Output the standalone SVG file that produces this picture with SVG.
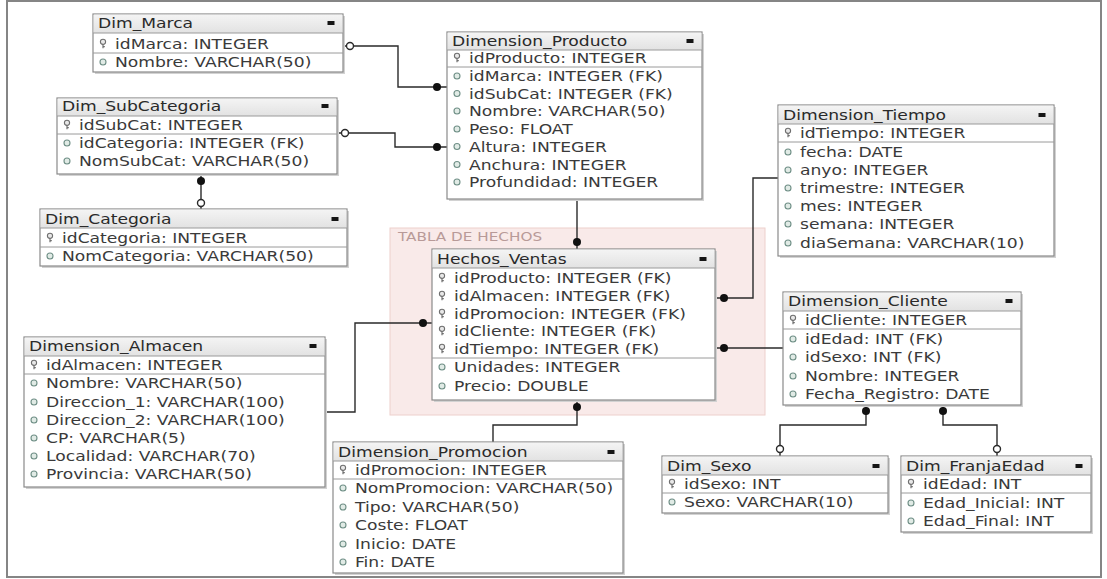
<svg xmlns="http://www.w3.org/2000/svg" xmlns:xlink="http://www.w3.org/1999/xlink" width="1107" height="579" viewBox="0 0 1107 579">
  <style>
    .box { fill: #ffffff; stroke: #8a8a8a; stroke-width: 1.2; }
    .shadow { fill: #d2d2d2; }
    .hdr { fill: url(#hg); }
    .sep { stroke: #9a9a9a; stroke-width: 1; }
    .t { font-family: "DejaVu Sans", "Liberation Sans", sans-serif; font-size: 13.5px; fill: #3a3a3a; }
    .ttl { font-family: "DejaVu Sans", "Liberation Sans", sans-serif; font-size: 13.5px; fill: #2a2a2a; }
    .conn { fill: none; stroke: #2a2a2a; stroke-width: 1.4; }
    .dot { fill: #111111; }
    .hol { fill: #ffffff; stroke: #2a2a2a; stroke-width: 1.4; }
    .zone { fill: #f7e3e1; fill-opacity: 0.75; stroke: #edd0cc; stroke-width: 1; }
    .zlbl { font-family: "DejaVu Sans", "Liberation Sans", sans-serif; font-size: 12px; fill: #b89a98; }
    .frame { fill: none; stroke: #858585; stroke-width: 2; }
  </style>
  <defs>
    <linearGradient id="hg" x1="0" y1="0" x2="0" y2="1">
      <stop offset="0" stop-color="#f4f4f4"/>
      <stop offset="1" stop-color="#e2e2e2"/>
    </linearGradient>
    <!-- primary key glyph -->
    <g id="key">
      <circle cx="0" cy="-2.2" r="2.6" fill="#e8e8e8" stroke="#6f6f6f" stroke-width="1.1"/>
      <path d="M0,0.4 V4.2 M0,2.6 H1.8" stroke="#6f6f6f" stroke-width="1.2" fill="none"/>
    </g>
    <!-- attribute glyph -->
    <g id="att">
      <circle cx="0" cy="0" r="3" fill="#e1ebe6" stroke="#6f8f86" stroke-width="1.1"/>
    </g>
    <!-- header dropdown glyph -->
    <rect id="dd" x="-3.5" y="-2" width="7" height="4" fill="#151515"/>
  </defs>

  <rect width="1107" height="579" fill="#ffffff"/>
  <rect class="frame" x="7" y="1" width="1094" height="576"/>

  <!-- fact table zone -->
  <g id="zona_hechos">
    <rect class="zone" x="390" y="228" width="375" height="187"/>
    <text class="zlbl" transform="translate(398,241) scale(1.27,1)">TABLA DE HECHOS</text>
  </g>

  <!-- connectors -->
  <g id="connectors">
    <path class="conn" d="M343,46 H398 V87 H447"/>
    <circle class="hol" cx="350" cy="46" r="3.5"/>
    <circle class="dot" cx="437" cy="87" r="4"/>

    <path class="conn" d="M337,133 H395 V147 H447"/>
    <circle class="hol" cx="345" cy="133" r="3.5"/>
    <circle class="dot" cx="437" cy="147" r="4"/>

    <path class="conn" d="M201,174 V209"/>
    <circle class="dot" cx="201" cy="181" r="4"/>
    <circle class="hol" cx="201" cy="203" r="3.5"/>

    <path class="conn" d="M577,199 V249"/>
    <circle class="dot" cx="577" cy="242" r="4"/>

    <path class="conn" d="M778,178 H753 V298 H715"/>
    <circle class="dot" cx="724" cy="298" r="4"/>

    <path class="conn" d="M783,348 H715"/>
    <circle class="dot" cx="724" cy="348" r="4"/>

    <path class="conn" d="M325,412 H355 V323 H432"/>
    <circle class="dot" cx="423" cy="323" r="4"/>

    <path class="conn" d="M577,400 V425 H493 V442"/>
    <circle class="dot" cx="577" cy="407" r="4"/>

    <path class="conn" d="M866,405 V425 H780 V456"/>
    <circle class="dot" cx="866" cy="411" r="4"/>
    <circle class="hol" cx="780" cy="449" r="3.5"/>

    <path class="conn" d="M943,405 V425 H997 V456"/>
    <circle class="dot" cx="943" cy="411" r="4"/>
    <circle class="hol" cx="997" cy="449" r="3.5"/>
  </g>

  <!-- Dim_Marca -->
  <g id="dim_marca" transform="translate(93,14)">
    <rect class="shadow" x="2" y="2" width="250" height="58"/>
    <rect class="box" width="250" height="58"/>
    <rect class="hdr" x="0.6" y="0.6" width="248.8" height="18.4"/>
    <line class="sep" x1="0" y1="19" x2="250" y2="19"/>
    <line class="sep" x1="0" y1="39" x2="250" y2="39"/>
    <text class="ttl" transform="translate(5,14) scale(1.27,1)">Dim_Marca</text>
    <use href="#dd" x="238" y="9"/>
    <use href="#key" x="10" y="30"/>
    <text class="t" transform="translate(22,35) scale(1.27,1)">idMarca: INTEGER</text>
    <use href="#att" x="10" y="48"/>
    <text class="t" transform="translate(22,53) scale(1.27,1)">Nombre: VARCHAR(50)</text>
  </g>

  <!-- Dim_SubCategoria -->
  <g id="dim_subcategoria" transform="translate(57,98)">
    <rect class="shadow" x="2" y="2" width="280" height="76"/>
    <rect class="box" width="280" height="76"/>
    <rect class="hdr" x="0.6" y="0.6" width="278.8" height="17.4"/>
    <line class="sep" x1="0" y1="18" x2="280" y2="18"/>
    <line class="sep" x1="0" y1="36" x2="280" y2="36"/>
    <text class="ttl" transform="translate(5,13) scale(1.27,1)">Dim_SubCategoria</text>
    <use href="#dd" x="268" y="8"/>
    <use href="#key" x="10" y="27"/>
    <text class="t" transform="translate(22,32) scale(1.27,1)">idSubCat: INTEGER</text>
    <use href="#att" x="10" y="45"/>
    <text class="t" transform="translate(22,50) scale(1.27,1)">idCategoria: INTEGER (FK)</text>
    <use href="#att" x="10" y="63"/>
    <text class="t" transform="translate(22,68) scale(1.27,1)">NomSubCat: VARCHAR(50)</text>
  </g>

  <!-- Dim_Categoria -->
  <g id="dim_categoria" transform="translate(40,209)">
    <rect class="shadow" x="2" y="2" width="307" height="57"/>
    <rect class="box" width="307" height="57"/>
    <rect class="hdr" x="0.6" y="0.6" width="305.8" height="18.4"/>
    <line class="sep" x1="0" y1="19" x2="307" y2="19"/>
    <line class="sep" x1="0" y1="38" x2="307" y2="38"/>
    <text class="ttl" transform="translate(5,15) scale(1.27,1)">Dim_Categoria</text>
    <use href="#dd" x="295" y="10"/>
    <use href="#key" x="10" y="29"/>
    <text class="t" transform="translate(22,34) scale(1.27,1)">idCategoria: INTEGER</text>
    <use href="#att" x="10" y="47"/>
    <text class="t" transform="translate(22,52) scale(1.27,1)">NomCategoria: VARCHAR(50)</text>
  </g>

  <!-- Dimension_Producto -->
  <g id="dimension_producto" transform="translate(447,32)">
    <rect class="shadow" x="2" y="2" width="255" height="167"/>
    <rect class="box" width="255" height="167"/>
    <rect class="hdr" x="0.6" y="0.6" width="253.8" height="17.4"/>
    <line class="sep" x1="0" y1="18" x2="255" y2="18"/>
    <line class="sep" x1="0" y1="35" x2="255" y2="35"/>
    <text class="ttl" transform="translate(5,14) scale(1.27,1)">Dimension_Producto</text>
    <use href="#dd" x="243" y="9"/>
    <use href="#key" x="10" y="26"/>
    <text class="t" transform="translate(22,31) scale(1.27,1)">idProducto: INTEGER</text>
    <use href="#att" x="10" y="44"/>
    <text class="t" transform="translate(22,49) scale(1.27,1)">idMarca: INTEGER (FK)</text>
    <use href="#att" x="10" y="61.5"/>
    <text class="t" transform="translate(22,66.5) scale(1.27,1)">idSubCat: INTEGER (FK)</text>
    <use href="#att" x="10" y="79"/>
    <text class="t" transform="translate(22,84) scale(1.27,1)">Nombre: VARCHAR(50)</text>
    <use href="#att" x="10" y="97"/>
    <text class="t" transform="translate(22,102) scale(1.27,1)">Peso: FLOAT</text>
    <use href="#att" x="10" y="114.5"/>
    <text class="t" transform="translate(22,119.5) scale(1.27,1)">Altura: INTEGER</text>
    <use href="#att" x="10" y="132.5"/>
    <text class="t" transform="translate(22,137.5) scale(1.27,1)">Anchura: INTEGER</text>
    <use href="#att" x="10" y="150"/>
    <text class="t" transform="translate(22,155) scale(1.27,1)">Profundidad: INTEGER</text>
  </g>

  <!-- Dimension_Tiempo -->
  <g id="dimension_tiempo" transform="translate(778,105)">
    <rect class="shadow" x="2" y="2" width="276" height="151"/>
    <rect class="box" width="276" height="151"/>
    <rect class="hdr" x="0.6" y="0.6" width="274.8" height="18.4"/>
    <line class="sep" x1="0" y1="19" x2="276" y2="19"/>
    <line class="sep" x1="0" y1="37" x2="276" y2="37"/>
    <text class="ttl" transform="translate(5,15) scale(1.27,1)">Dimension_Tiempo</text>
    <use href="#dd" x="264" y="10"/>
    <use href="#key" x="10" y="28"/>
    <text class="t" transform="translate(22,33) scale(1.27,1)">idTiempo: INTEGER</text>
    <use href="#att" x="10" y="47"/>
    <text class="t" transform="translate(22,52) scale(1.27,1)">fecha: DATE</text>
    <use href="#att" x="10" y="65"/>
    <text class="t" transform="translate(22,70) scale(1.27,1)">anyo: INTEGER</text>
    <use href="#att" x="10" y="83"/>
    <text class="t" transform="translate(22,88) scale(1.27,1)">trimestre: INTEGER</text>
    <use href="#att" x="10" y="101"/>
    <text class="t" transform="translate(22,106) scale(1.27,1)">mes: INTEGER</text>
    <use href="#att" x="10" y="119"/>
    <text class="t" transform="translate(22,124) scale(1.27,1)">semana: INTEGER</text>
    <use href="#att" x="10" y="138"/>
    <text class="t" transform="translate(22,143) scale(1.27,1)">diaSemana: VARCHAR(10)</text>
  </g>

  <!-- Hechos_Ventas -->
  <g id="hechos_ventas" transform="translate(432,249)">
    <rect class="shadow" x="2" y="2" width="283" height="151"/>
    <rect class="box" width="283" height="151"/>
    <rect class="hdr" x="0.6" y="0.6" width="281.8" height="18.4"/>
    <line class="sep" x1="0" y1="19" x2="283" y2="19"/>
    <line class="sep" x1="0" y1="109" x2="283" y2="109"/>
    <text class="ttl" transform="translate(5,15) scale(1.27,1)">Hechos_Ventas</text>
    <use href="#dd" x="271" y="10"/>
    <use href="#key" x="10" y="29"/>
    <text class="t" transform="translate(22,34) scale(1.27,1)">idProducto: INTEGER (FK)</text>
    <use href="#key" x="10" y="47"/>
    <text class="t" transform="translate(22,52) scale(1.27,1)">idAlmacen: INTEGER (FK)</text>
    <use href="#key" x="10" y="65"/>
    <text class="t" transform="translate(22,70) scale(1.27,1)">idPromocion: INTEGER (FK)</text>
    <use href="#key" x="10" y="82"/>
    <text class="t" transform="translate(22,87) scale(1.27,1)">idCliente: INTEGER (FK)</text>
    <use href="#key" x="10" y="100"/>
    <text class="t" transform="translate(22,105) scale(1.27,1)">idTiempo: INTEGER (FK)</text>
    <use href="#att" x="10" y="118"/>
    <text class="t" transform="translate(22,123) scale(1.27,1)">Unidades: INTEGER</text>
    <use href="#att" x="10" y="137"/>
    <text class="t" transform="translate(22,142) scale(1.27,1)">Precio: DOUBLE</text>
  </g>

  <!-- Dimension_Cliente -->
  <g id="dimension_cliente" transform="translate(783,292)">
    <rect class="shadow" x="2" y="2" width="238" height="113"/>
    <rect class="box" width="238" height="113"/>
    <rect class="hdr" x="0.6" y="0.6" width="236.8" height="18.4"/>
    <line class="sep" x1="0" y1="19" x2="238" y2="19"/>
    <line class="sep" x1="0" y1="37" x2="238" y2="37"/>
    <text class="ttl" transform="translate(5,14) scale(1.27,1)">Dimension_Cliente</text>
    <use href="#dd" x="226" y="9"/>
    <use href="#key" x="10" y="28"/>
    <text class="t" transform="translate(22,33) scale(1.27,1)">idCliente: INTEGER</text>
    <use href="#att" x="10" y="47"/>
    <text class="t" transform="translate(22,52) scale(1.27,1)">idEdad: INT (FK)</text>
    <use href="#att" x="10" y="65"/>
    <text class="t" transform="translate(22,70) scale(1.27,1)">idSexo: INT (FK)</text>
    <use href="#att" x="10" y="84"/>
    <text class="t" transform="translate(22,89) scale(1.27,1)">Nombre: INTEGER</text>
    <use href="#att" x="10" y="102"/>
    <text class="t" transform="translate(22,107) scale(1.27,1)">Fecha_Registro: DATE</text>
  </g>

  <!-- Dimension_Almacen -->
  <g id="dimension_almacen" transform="translate(24,337)">
    <rect class="shadow" x="2" y="2" width="301" height="150"/>
    <rect class="box" width="301" height="150"/>
    <rect class="hdr" x="0.6" y="0.6" width="299.8" height="18.4"/>
    <line class="sep" x1="0" y1="19" x2="301" y2="19"/>
    <line class="sep" x1="0" y1="37" x2="301" y2="37"/>
    <text class="ttl" transform="translate(5,14) scale(1.27,1)">Dimension_Almacen</text>
    <use href="#dd" x="289" y="9"/>
    <use href="#key" x="10" y="28"/>
    <text class="t" transform="translate(22,33) scale(1.27,1)">idAlmacen: INTEGER</text>
    <use href="#att" x="10" y="46"/>
    <text class="t" transform="translate(22,51) scale(1.27,1)">Nombre: VARCHAR(50)</text>
    <use href="#att" x="10" y="65"/>
    <text class="t" transform="translate(22,70) scale(1.27,1)">Direccion_1: VARCHAR(100)</text>
    <use href="#att" x="10" y="83"/>
    <text class="t" transform="translate(22,88) scale(1.27,1)">Direccion_2: VARCHAR(100)</text>
    <use href="#att" x="10" y="101"/>
    <text class="t" transform="translate(22,106) scale(1.27,1)">CP: VARCHAR(5)</text>
    <use href="#att" x="10" y="119"/>
    <text class="t" transform="translate(22,124) scale(1.27,1)">Localidad: VARCHAR(70)</text>
    <use href="#att" x="10" y="137"/>
    <text class="t" transform="translate(22,142) scale(1.27,1)">Provincia: VARCHAR(50)</text>
  </g>

  <!-- Dimension_Promocion -->
  <g id="dimension_promocion" transform="translate(333,442)">
    <rect class="shadow" x="2" y="2" width="290" height="131"/>
    <rect class="box" width="290" height="131"/>
    <rect class="hdr" x="0.6" y="0.6" width="288.8" height="18.4"/>
    <line class="sep" x1="0" y1="19" x2="290" y2="19"/>
    <line class="sep" x1="0" y1="37" x2="290" y2="37"/>
    <text class="ttl" transform="translate(5,15) scale(1.27,1)">Dimension_Promocion</text>
    <use href="#dd" x="278" y="10"/>
    <use href="#key" x="10" y="28"/>
    <text class="t" transform="translate(22,33) scale(1.27,1)">idPromocion: INTEGER</text>
    <use href="#att" x="10" y="46"/>
    <text class="t" transform="translate(22,51) scale(1.27,1)">NomPromocion: VARCHAR(50)</text>
    <use href="#att" x="10" y="65"/>
    <text class="t" transform="translate(22,70) scale(1.27,1)">Tipo: VARCHAR(50)</text>
    <use href="#att" x="10" y="83"/>
    <text class="t" transform="translate(22,88) scale(1.27,1)">Coste: FLOAT</text>
    <use href="#att" x="10" y="102"/>
    <text class="t" transform="translate(22,107) scale(1.27,1)">Inicio: DATE</text>
    <use href="#att" x="10" y="120"/>
    <text class="t" transform="translate(22,125) scale(1.27,1)">Fin: DATE</text>
  </g>

  <!-- Dim_Sexo -->
  <g id="dim_sexo" transform="translate(662,456)">
    <rect class="shadow" x="2" y="2" width="226" height="57"/>
    <rect class="box" width="226" height="57"/>
    <rect class="hdr" x="0.6" y="0.6" width="224.8" height="18.4"/>
    <line class="sep" x1="0" y1="19" x2="226" y2="19"/>
    <line class="sep" x1="0" y1="37" x2="226" y2="37"/>
    <text class="ttl" transform="translate(5,15) scale(1.27,1)">Dim_Sexo</text>
    <use href="#dd" x="214" y="10"/>
    <use href="#key" x="10" y="28"/>
    <text class="t" transform="translate(22,33) scale(1.27,1)">idSexo: INT</text>
    <use href="#att" x="10" y="46"/>
    <text class="t" transform="translate(22,51) scale(1.27,1)">Sexo: VARCHAR(10)</text>
  </g>

  <!-- Dim_FranjaEdad -->
  <g id="dim_franjaedad" transform="translate(901,456)">
    <rect class="shadow" x="2" y="2" width="190" height="76"/>
    <rect class="box" width="190" height="76"/>
    <rect class="hdr" x="0.6" y="0.6" width="188.8" height="18.4"/>
    <line class="sep" x1="0" y1="19" x2="190" y2="19"/>
    <line class="sep" x1="0" y1="37" x2="190" y2="37"/>
    <text class="ttl" transform="translate(5,15) scale(1.27,1)">Dim_FranjaEdad</text>
    <use href="#dd" x="178" y="10"/>
    <use href="#key" x="10" y="28"/>
    <text class="t" transform="translate(22,33) scale(1.27,1)">idEdad: INT</text>
    <use href="#att" x="10" y="47"/>
    <text class="t" transform="translate(22,52) scale(1.27,1)">Edad_Inicial: INT</text>
    <use href="#att" x="10" y="65"/>
    <text class="t" transform="translate(22,70) scale(1.27,1)">Edad_Final: INT</text>
  </g>
</svg>
